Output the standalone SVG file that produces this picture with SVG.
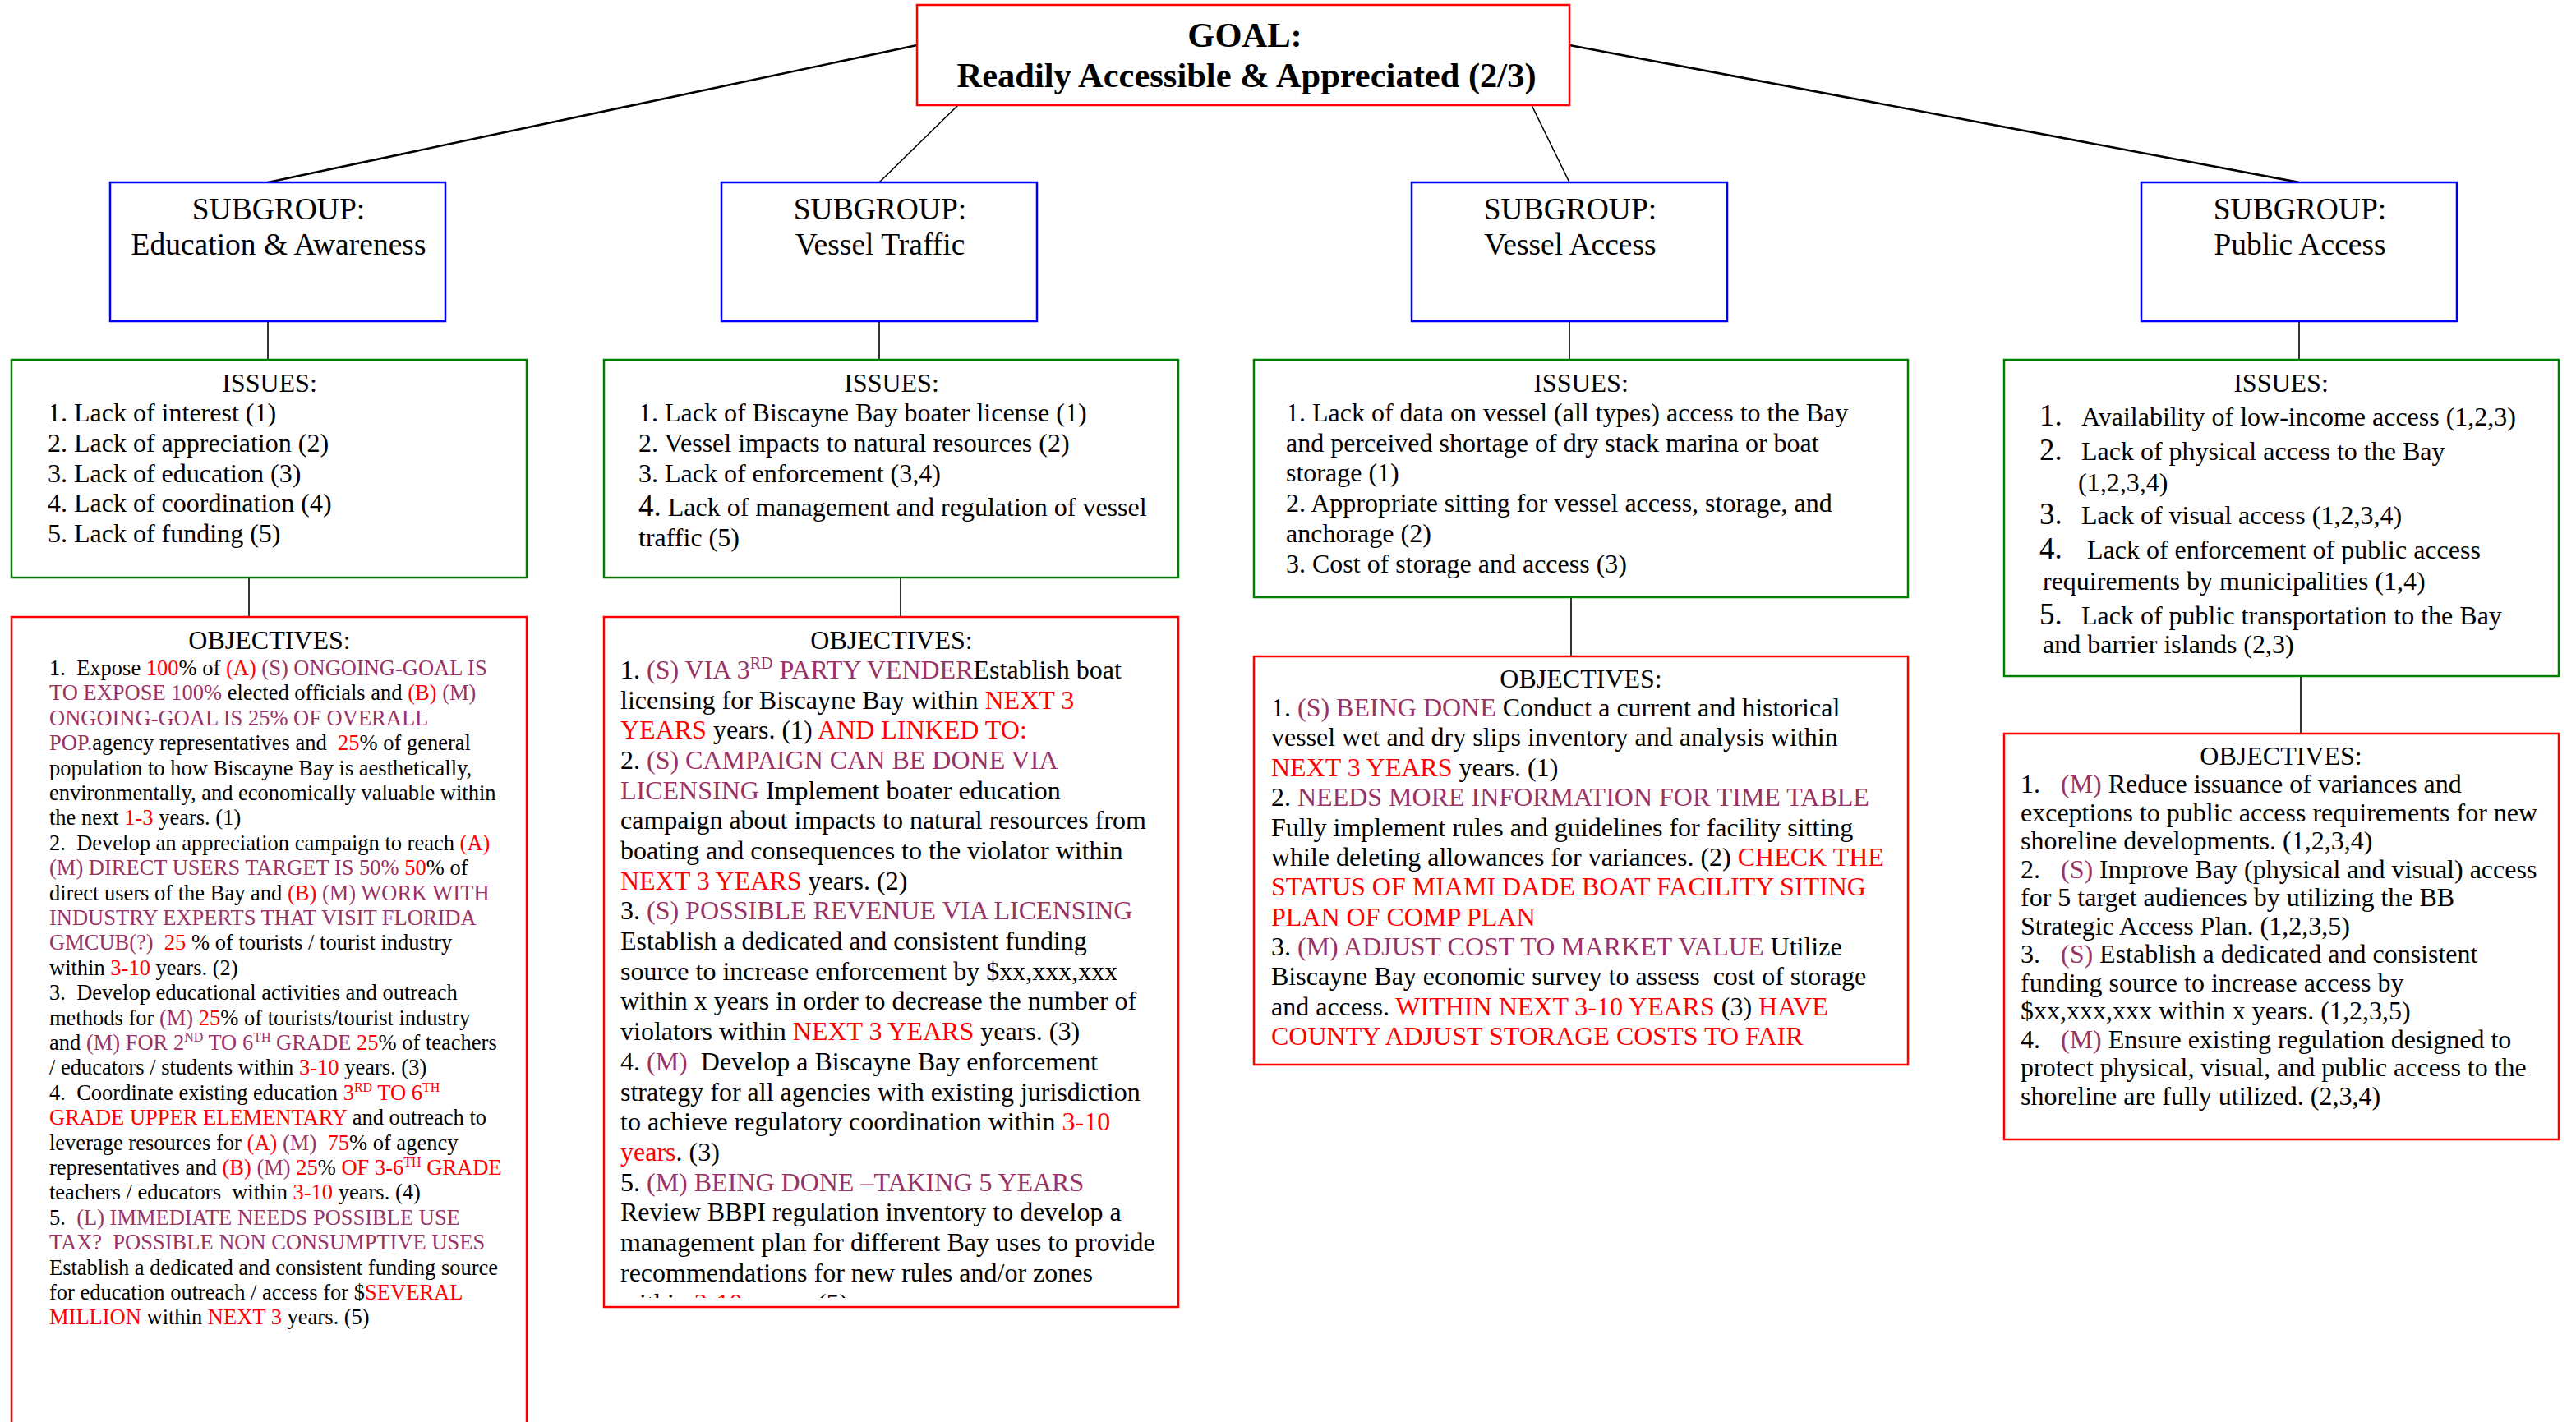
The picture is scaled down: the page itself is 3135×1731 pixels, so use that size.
<svg xmlns="http://www.w3.org/2000/svg" width="3135" height="1731" viewBox="0 0 3135 1731" xml:space="preserve">
<style>
text{font-family:"Liberation Serif","Times New Roman",serif;fill:#000;white-space:pre}
.p{fill:#993366}
.r{fill:#FF0000}
.s{font-size:26.5px}
.m{font-size:32px}
.h{font-size:32px;text-anchor:middle}
.sg{font-size:37.5px;text-anchor:middle}
.goal{fill:#fff;stroke:#FF0000;stroke-width:2.5}
.sub{fill:#fff;stroke:#0000FF;stroke-width:2.5}
.iss{fill:#fff;stroke:#008000;stroke-width:2.5}
.obj{fill:#fff;stroke:#FF0000;stroke-width:2.5}
.c{stroke:#000;stroke-width:1.6;fill:none}
.ct{stroke:#000;stroke-width:2.6;fill:none}
</style>
<defs>
<clipPath id="clip2"><rect x="735" y="751" width="700" height="829"/></clipPath>
</defs>
<rect width="3135" height="1731" fill="#fff"/>
<g id="connectors">
<line class="ct" x1="1116" y1="55" x2="326" y2="222"/>
<line class="c" x1="1166" y1="128" x2="1070" y2="222"/>
<line class="c" x1="1864" y1="128" x2="1910" y2="222"/>
<line class="ct" x1="1910" y1="55" x2="2798" y2="222"/>
<line class="c" x1="326" y1="391" x2="326" y2="438"/>
<line class="c" x1="1070" y1="391" x2="1070" y2="438"/>
<line class="c" x1="1910" y1="391" x2="1910" y2="438"/>
<line class="c" x1="2798" y1="391" x2="2798" y2="438"/>
<line class="c" x1="303" y1="703" x2="303" y2="751"/>
<line class="c" x1="1096" y1="703" x2="1096" y2="751"/>
<line class="c" x1="1912" y1="727" x2="1912" y2="799"/>
<line class="c" x1="2800" y1="823" x2="2800" y2="893"/>
</g>
<g id="goal">
<rect class="goal" x="1116" y="6" width="794" height="122"/>
<text x="1515" y="57" font-size="42.5" font-weight="bold" text-anchor="middle">GOAL:</text>
<text x="1517" y="106" font-size="42.5" font-weight="bold" text-anchor="middle">Readily Accessible &amp; Appreciated (2/3)</text>
</g>
<g id="sub-education">
<rect class="sub" x="134" y="222" width="408" height="169"/>
<text class="sg" x="339" y="267">SUBGROUP:</text>
<text class="sg" x="339" y="310">Education &amp; Awareness</text>
</g>
<g id="sub-traffic">
<rect class="sub" x="878" y="222" width="384" height="169"/>
<text class="sg" x="1071" y="267">SUBGROUP:</text>
<text class="sg" x="1071" y="310">Vessel Traffic</text>
</g>
<g id="sub-vaccess">
<rect class="sub" x="1718" y="222" width="384" height="169"/>
<text class="sg" x="1911" y="267">SUBGROUP:</text>
<text class="sg" x="1911" y="310">Vessel Access</text>
</g>
<g id="sub-paccess">
<rect class="sub" x="2606" y="222" width="384" height="169"/>
<text class="sg" x="2799" y="267">SUBGROUP:</text>
<text class="sg" x="2799" y="310">Public Access</text>
</g>
<g id="issues-education">
<rect class="iss" x="14" y="438" width="627" height="265"/>
<text class="h" x="328" y="477">ISSUES:</text>
<text class="m" x="58" y="513">1. Lack of interest (1)</text>
<text class="m" x="58" y="550">2. Lack of appreciation (2)</text>
<text class="m" x="58" y="587">3. Lack of education (3)</text>
<text class="m" x="58" y="623">4. Lack of coordination (4)</text>
<text class="m" x="58" y="660">5. Lack of funding (5)</text>
</g>
<g id="issues-traffic">
<rect class="iss" x="735" y="438" width="699" height="265"/>
<text class="h" x="1085" y="477">ISSUES:</text>
<text class="m" x="777" y="513">1. Lack of Biscayne Bay boater license (1)</text>
<text class="m" x="777" y="550">2. Vessel impacts to natural resources (2)</text>
<text class="m" x="777" y="587">3. Lack of enforcement (3,4)</text>
<text class="m" x="777" y="628"><tspan font-size="37">4.</tspan> Lack of management and regulation of vessel</text>
<text class="m" x="777" y="665">traffic (5)</text>
</g>
<g id="issues-vaccess">
<rect class="iss" x="1526" y="438" width="796" height="289"/>
<text class="h" x="1924" y="477">ISSUES:</text>
<text class="m" x="1565" y="513">1. Lack of data on vessel (all types) access to the Bay</text>
<text class="m" x="1565" y="550">and perceived shortage of dry stack marina or boat</text>
<text class="m" x="1565" y="586">storage (1)</text>
<text class="m" x="1565" y="623">2. Appropriate sitting for vessel access, storage, and</text>
<text class="m" x="1565" y="660">anchorage (2)</text>
<text class="m" x="1565" y="697">3. Cost of storage and access (3)</text>
</g>
<g id="issues-paccess">
<rect class="iss" x="2439" y="438" width="675" height="385"/>
<text class="h" x="2776" y="477">ISSUES:</text>
<text x="2482" y="518" font-size="37">1.</text><text class="m" x="2533" y="518">Availability of low-income access (1,2,3)</text>
<text x="2482" y="560" font-size="37">2.</text><text class="m" x="2533" y="560">Lack of physical access to the Bay</text>
<text class="m" x="2529" y="598">(1,2,3,4)</text>
<text x="2482" y="638" font-size="37">3.</text><text class="m" x="2533" y="638">Lack of visual access (1,2,3,4)</text>
<text x="2482" y="680" font-size="37">4.</text><text class="m" x="2540" y="680">Lack of enforcement of public access</text>
<text class="m" x="2486" y="718">requirements by municipalities (1,4)</text>
<text x="2482" y="760" font-size="37">5.</text><text class="m" x="2533" y="760">Lack of public transportation to the Bay</text>
<text class="m" x="2486" y="795">and barrier islands (2,3)</text>
</g>
<g id="objectives-education">
<rect class="obj" x="14" y="751" width="627" height="1000"/>
<text class="h" x="328" y="790">OBJECTIVES:</text>
<text class="s" x="60" y="822">1.  Expose <tspan class="r">100</tspan>% of <tspan class="r">(A)</tspan> <tspan class="p">(S) ONGOING-GOAL IS</tspan></text>
<text class="s" x="60" y="852"><tspan class="p">TO EXPOSE 100%</tspan> elected officials and <tspan class="r">(B)</tspan> <tspan class="p">(M)</tspan></text>
<text class="s" x="60" y="883"><tspan class="p">ONGOING-GOAL IS 25% OF OVERALL</tspan></text>
<text class="s" x="60" y="913"><tspan class="p">POP.</tspan>agency representatives and  <tspan class="r">25</tspan>% of general</text>
<text class="s" x="60" y="944">population to how Biscayne Bay is aesthetically,</text>
<text class="s" x="60" y="974">environmentally, and economically valuable within</text>
<text class="s" x="60" y="1004">the next <tspan class="r">1-3</tspan> years. (1)</text>
<text class="s" x="60" y="1035">2.  Develop an appreciation campaign to reach <tspan class="r">(A)</tspan></text>
<text class="s" x="60" y="1065"><tspan class="p">(M) DIRECT USERS TARGET IS 50%</tspan> <tspan class="r">50</tspan>% of</text>
<text class="s" x="60" y="1096">direct users of the Bay and <tspan class="r">(B)</tspan> <tspan class="p">(M) WORK WITH</tspan></text>
<text class="s" x="60" y="1126"><tspan class="p">INDUSTRY EXPERTS THAT VISIT FLORIDA</tspan></text>
<text class="s" x="60" y="1156"><tspan class="p">GMCUB(?)</tspan>  <tspan class="r">25</tspan> % of tourists / tourist industry</text>
<text class="s" x="60" y="1187">within <tspan class="r">3-10</tspan> years. (2)</text>
<text class="s" x="60" y="1217">3.  Develop educational activities and outreach</text>
<text class="s" x="60" y="1248">methods for <tspan class="p">(M)</tspan> <tspan class="r">25</tspan>% of tourists/tourist industry</text>
<text class="s" x="60" y="1278">and <tspan class="p">(M) FOR 2</tspan><tspan class="p" font-size="16" dy="-10">ND</tspan><tspan class="p" dy="10"> TO 6</tspan><tspan class="p" font-size="16" dy="-10">TH</tspan><tspan class="p" dy="10"> GRADE </tspan><tspan class="r">25</tspan>% of teachers</text>
<text class="s" x="60" y="1308">/ educators / students within <tspan class="r">3-10</tspan> years. (3)</text>
<text class="s" x="60" y="1339">4.  Coordinate existing education <tspan class="r">3</tspan><tspan class="r" font-size="16" dy="-10">RD</tspan><tspan class="r" dy="10"> TO 6</tspan><tspan class="r" font-size="16" dy="-10">TH</tspan></text>
<text class="s" x="60" y="1369"><tspan class="r">GRADE UPPER ELEMENTARY</tspan> and outreach to</text>
<text class="s" x="60" y="1400">leverage resources for <tspan class="r">(A)</tspan> <tspan class="p">(M)</tspan>  <tspan class="r">75</tspan>% of agency</text>
<text class="s" x="60" y="1430">representatives and <tspan class="r">(B)</tspan> <tspan class="p">(M)</tspan> <tspan class="r">25</tspan>% <tspan class="r">OF 3-6</tspan><tspan class="r" font-size="16" dy="-10">TH</tspan><tspan class="r" dy="10"> GRADE</tspan></text>
<text class="s" x="60" y="1460">teachers / educators  within <tspan class="r">3-10</tspan> years. (4)</text>
<text class="s" x="60" y="1491">5.  <tspan class="p">(L) IMMEDIATE NEEDS POSSIBLE USE</tspan></text>
<text class="s" x="60" y="1521"><tspan class="p">TAX?  POSSIBLE NON CONSUMPTIVE USES</tspan></text>
<text class="s" x="60" y="1552">Establish a dedicated and consistent funding source</text>
<text class="s" x="60" y="1582">for education outreach / access for $<tspan class="r">SEVERAL</tspan></text>
<text class="s" x="60" y="1612"><tspan class="r">MILLION</tspan> within <tspan class="r">NEXT 3</tspan> years. (5)</text>
</g>
<g id="objectives-traffic">
<rect class="obj" x="735" y="751" width="699" height="840"/>
<text class="h" x="1085" y="790">OBJECTIVES:</text>
<g clip-path="url(#clip2)">
<text class="m" x="755" y="826">1. <tspan class="p">(S) VIA 3</tspan><tspan class="p" font-size="20" dy="-12">RD</tspan><tspan class="p" dy="12"> PARTY VENDER</tspan>Establish boat</text>
<text class="m" x="755" y="863">licensing for Biscayne Bay within <tspan class="r">NEXT 3</tspan></text>
<text class="m" x="755" y="899"><tspan class="r">YEARS</tspan> years. (1) <tspan class="r">AND LINKED TO:</tspan></text>
<text class="m" x="755" y="936">2. <tspan class="p">(S) CAMPAIGN CAN BE DONE VIA</tspan></text>
<text class="m" x="755" y="973"><tspan class="p">LICENSING</tspan> Implement boater education</text>
<text class="m" x="755" y="1009">campaign about impacts to natural resources from</text>
<text class="m" x="755" y="1046">boating and consequences to the violator within</text>
<text class="m" x="755" y="1083"><tspan class="r">NEXT 3 YEARS</tspan> years. (2)</text>
<text class="m" x="755" y="1119">3. <tspan class="p">(S) POSSIBLE REVENUE VIA LICENSING</tspan></text>
<text class="m" x="755" y="1156">Establish a dedicated and consistent funding</text>
<text class="m" x="755" y="1193">source to increase enforcement by $xx,xxx,xxx</text>
<text class="m" x="755" y="1229">within x years in order to decrease the number of</text>
<text class="m" x="755" y="1266">violators within <tspan class="r">NEXT 3 YEARS</tspan> years. (3)</text>
<text class="m" x="755" y="1303">4. <tspan class="p">(M)</tspan>  Develop a Biscayne Bay enforcement</text>
<text class="m" x="755" y="1340">strategy for all agencies with existing jurisdiction</text>
<text class="m" x="755" y="1376">to achieve regulatory coordination within <tspan class="r">3-10</tspan></text>
<text class="m" x="755" y="1413"><tspan class="r">years</tspan>. (3)</text>
<text class="m" x="755" y="1450">5. <tspan class="p">(M) BEING DONE –TAKING 5 YEARS</tspan></text>
<text class="m" x="755" y="1486">Review BBPI regulation inventory to develop a</text>
<text class="m" x="755" y="1523">management plan for different Bay uses to provide</text>
<text class="m" x="755" y="1560">recommendations for new rules and/or zones</text>
<text class="m" x="755" y="1597">within <tspan class="r">3-10</tspan> years. (5)</text>
</g>
</g>
<g id="objectives-vaccess">
<rect class="obj" x="1526" y="799" width="796" height="497"/>
<text class="h" x="1924" y="837">OBJECTIVES:</text>
<text class="m" x="1547" y="872">1. <tspan class="p">(S) BEING DONE</tspan> Conduct a current and historical</text>
<text class="m" x="1547" y="908">vessel wet and dry slips inventory and analysis within</text>
<text class="m" x="1547" y="945"><tspan class="r">NEXT 3 YEARS</tspan> years. (1)</text>
<text class="m" x="1547" y="981">2. <tspan class="p">NEEDS MORE INFORMATION FOR TIME TABLE</tspan></text>
<text class="m" x="1547" y="1018">Fully implement rules and guidelines for facility sitting</text>
<text class="m" x="1547" y="1054">while deleting allowances for variances. (2) <tspan class="r">CHECK THE</tspan></text>
<text class="m" x="1547" y="1090"><tspan class="r">STATUS OF MIAMI DADE BOAT FACILITY SITING</tspan></text>
<text class="m" x="1547" y="1127"><tspan class="r">PLAN OF COMP PLAN</tspan></text>
<text class="m" x="1547" y="1163">3. <tspan class="p">(M) ADJUST COST TO MARKET VALUE</tspan> Utilize</text>
<text class="m" x="1547" y="1199">Biscayne Bay economic survey to assess  cost of storage</text>
<text class="m" x="1547" y="1236">and access. <tspan class="r">WITHIN NEXT 3-10 YEARS</tspan> (3) <tspan class="r">HAVE</tspan></text>
<text class="m" x="1547" y="1272"><tspan class="r">COUNTY ADJUST STORAGE COSTS TO FAIR</tspan></text>
</g>
<g id="objectives-paccess">
<rect class="obj" x="2439" y="893" width="675" height="494"/>
<text class="h" x="2776" y="931">OBJECTIVES:</text>
<text class="m" x="2459" y="965">1.</text><text class="m" x="2508" y="965"><tspan class="p">(M)</tspan> Reduce issuance of variances and</text>
<text class="m" x="2459" y="1000">exceptions to public access requirements for new</text>
<text class="m" x="2459" y="1034">shoreline developments. (1,2,3,4)</text>
<text class="m" x="2459" y="1069">2.</text><text class="m" x="2508" y="1069"><tspan class="p">(S)</tspan> Improve Bay (physical and visual) access</text>
<text class="m" x="2459" y="1103">for 5 target audiences by utilizing the BB</text>
<text class="m" x="2459" y="1138">Strategic Access Plan. (1,2,3,5)</text>
<text class="m" x="2459" y="1172">3.</text><text class="m" x="2508" y="1172"><tspan class="p">(S)</tspan> Establish a dedicated and consistent</text>
<text class="m" x="2459" y="1207">funding source to increase access by</text>
<text class="m" x="2459" y="1241">$xx,xxx,xxx within x years. (1,2,3,5)</text>
<text class="m" x="2459" y="1276">4.</text><text class="m" x="2508" y="1276"><tspan class="p">(M)</tspan> Ensure existing regulation designed to</text>
<text class="m" x="2459" y="1310">protect physical, visual, and public access to the</text>
<text class="m" x="2459" y="1345">shoreline are fully utilized. (2,3,4)</text>
</g>
</svg>
